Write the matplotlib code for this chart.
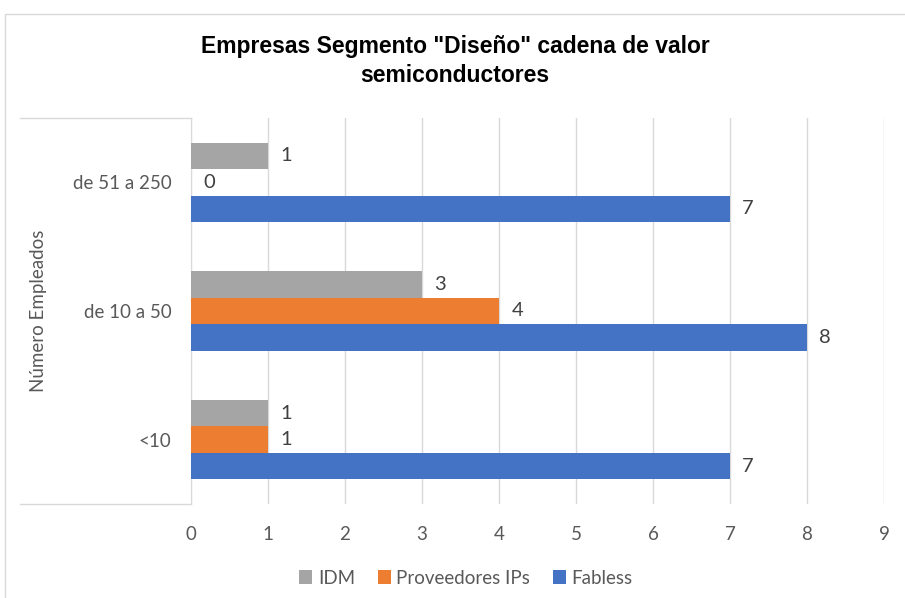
import matplotlib
matplotlib.use('agg')
import matplotlib.pyplot as plt
from matplotlib.lines import Line2D
from matplotlib.patches import Rectangle
import numpy as np

# data
categories = ['<10', 'de 10 a 50', 'de 51 a 250']
idm = [1, 3, 1]
proveedores = [1, 4, 0]
fabless = [7, 8, 7]
x_ticks = [0, 1, 2, 3, 4, 5, 6, 7, 8, 9]

plt.rcParams['font.family'] = ['Lato', 'DejaVu Sans']

fig = plt.figure(figsize=(9.05, 5.98), dpi=100)
ax = fig.add_axes([191 / 905, 1 - 504 / 598, (884 - 191) / 905, (504 - 118) / 598])

y = np.arange(len(categories))
h = 0.206
series = [(fabless, -h, '#4472C4', 'Fabless'),
          (proveedores, 0, '#ED7D31', 'Proveedores IPs'),
          (idm, h, '#A5A5A5', 'IDM')]
bars = {}
for vals, off, col, name in series:
    bars[name] = ax.barh(y + off, vals, height=h, color=col, label=name, zorder=3)
    for yi, v in zip(y, vals):
        ax.text(v + 0.16, yi + off, str(v), va='center', ha='left',
                fontsize=14.5, color='#404040')

ax.set_xlim(0, 9)
ax.set_ylim(-0.5, 2.5)
ax.set_xticks(x_ticks)
ax.set_yticks(y)
ax.set_yticklabels(categories)
ax.tick_params(axis='both', length=0, labelsize=13.5, labelcolor='#595959')
ax.tick_params(axis='x', pad=16)
ax.tick_params(axis='y', pad=14)
ax.grid(axis='x', color='#D9D9D9', linewidth=1, zorder=0)
for s in ['top', 'right', 'bottom']:
    ax.spines[s].set_visible(False)
ax.spines['left'].set_color('#D9D9D9')

ax.set_ylabel('Número Empleados', fontsize=13.5, color='#595959')
ax.yaxis.set_label_coords(-0.208, 0.5)

fig.text(0.503, 1 - 46 / 598, 'Empresas Segmento "Diseño" cadena de valor',
         ha='center', va='center', fontsize=16.5, fontweight='bold',
         family='Liberation Sans', color='#000000')
fig.text(0.503, 1 - 75 / 598, 'semiconductores',
         ha='center', va='center', fontsize=16.5, fontweight='bold',
         family='Liberation Sans', color='#000000')

# category axis box lines on the left
fig.add_artist(Line2D([20 / 905, 191 / 905], [1 - 118 / 598, 1 - 118 / 598],
                      color='#D9D9D9', lw=1))
fig.add_artist(Line2D([20 / 905, 191 / 905], [1 - 504 / 598, 1 - 504 / 598],
                      color='#D9D9D9', lw=1))
# chart frame
fig.add_artist(Rectangle((5 / 905, -0.01), 1.0, 1 - 14 / 598 + 0.01,
                         fill=False, edgecolor='#D9D9D9', lw=1))

handles = [bars['IDM'], bars['Proveedores IPs'], bars['Fabless']]
fig.legend(handles, ['IDM', 'Proveedores IPs', 'Fabless'], loc='center',
           bbox_to_anchor=(466 / 905, 1 - 578 / 598), ncol=3, frameon=False,
           fontsize=13.5, labelcolor='#595959', handlelength=0.7,
           handleheight=0.7, handletextpad=0.3, columnspacing=1.2)

fig.savefig('out.png', dpi=100)
